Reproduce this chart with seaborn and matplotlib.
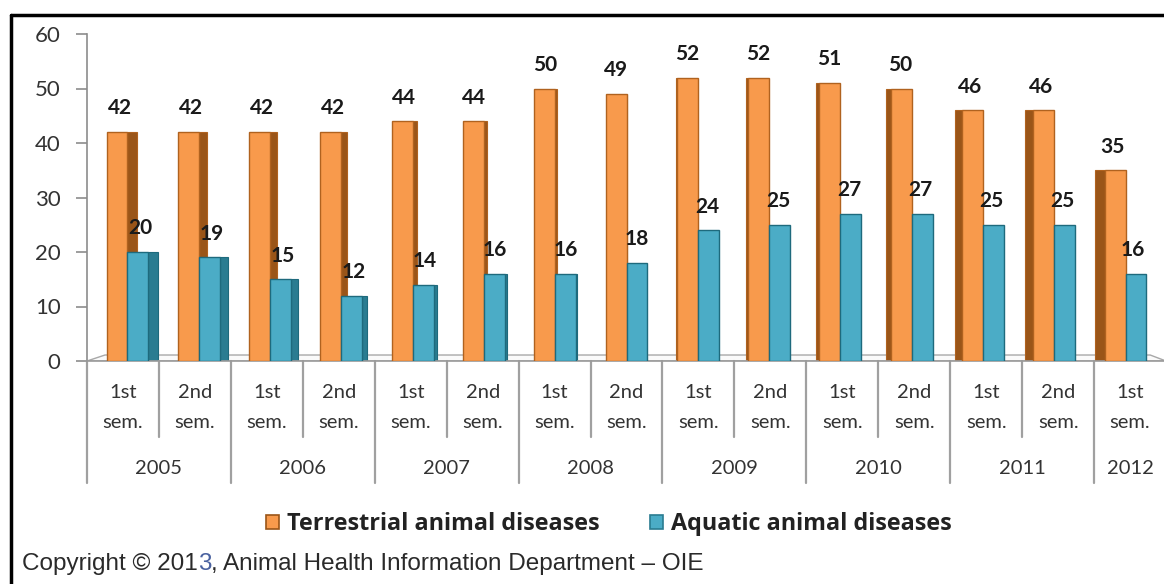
import matplotlib
matplotlib.use("Agg")
import matplotlib.pyplot as plt
from matplotlib.patches import Rectangle, Patch, Polygon
from matplotlib.lines import Line2D
import matplotlib.transforms as mtransforms
import pandas as pd
import seaborn as sns

# ---- data -------------------------------------------------------------
years = ["2005", "2005", "2006", "2006", "2007", "2007", "2008", "2008",
         "2009", "2009", "2010", "2010", "2011", "2011", "2012"]
semesters = ["1st", "2nd", "1st", "2nd", "1st", "2nd", "1st", "2nd",
             "1st", "2nd", "1st", "2nd", "1st", "2nd", "1st"]
terrestrial = [42, 42, 42, 42, 44, 44, 50, 49, 52, 52, 51, 50, 46, 46, 35]
aquatic = [20, 19, 15, 12, 14, 16, 16, 18, 24, 25, 27, 27, 25, 25, 16]
series_names = ["Terrestrial animal diseases", "Aquatic animal diseases"]
y_ticks = [0, 10, 20, 30, 40, 50, 60]
copyright_parts = ["Copyright \u00a9 201", "3", ", Animal Health Information Department \u2013 OIE"]

# ---- styling ----------------------------------------------------------
front_colors = ["#F89A4C", "#4BACC6"]
side_colors = ["#9A5518", "#2A7C91"]
edge_colors = ["#B0621F", "#1E6A7D"]
text_color = "#333333"

sns.set_theme(style="white")
plt.rcParams["font.family"] = ["Lato", "DejaVu Sans"]

periods = [f"{y} {s}" for y, s in zip(years, semesters)]
df = pd.DataFrame({
    "period": periods * 2,
    "series": [series_names[0]] * len(periods) + [series_names[1]] * len(periods),
    "value": terrestrial + aquatic,
})

W, H = 1164, 584
fig = plt.figure(figsize=(W / 100, H / 100), dpi=100)
fig.patch.set_facecolor("white")

# plot frame in pixels: left 87, right 1166, top 34, bottom 361
ax = fig.add_axes([87 / W, 1 - 361 / H, (1166 - 87) / W, (361 - 34) / H])

sns.barplot(data=df, x="period", y="value", hue="series",
            palette=dict(zip(series_names, front_colors)),
            width=0.58, gap=0, saturation=1, legend=False, ax=ax,
            zorder=3, errorbar=None)

ax.set_xlim(-0.5, len(periods) - 0.5)
ax.set_ylim(0, 60)
ax.set_yticks(y_ticks)
ax.set_yticklabels([str(t) for t in y_ticks], fontsize=16, color="#333333")
ax.set_xticks([])
ax.set_xlabel("")
ax.set_ylabel("")
for side in ["top", "right"]:
    ax.spines[side].set_visible(False)
ax.spines["left"].set_color("#8C8C8C")
ax.spines["bottom"].set_color("#9A9A9A")
ax.spines["left"].set_linewidth(1.2)
ax.spines["bottom"].set_linewidth(1.2)
ax.tick_params(axis="y", direction="out", length=8, width=1.2, color="#8C8C8C",
               pad=11, left=True)

# floor of the pseudo-3D plot
floor = Polygon([(-0.5, 0), (-0.25, 1.1), (len(periods) - 0.72, 1.1), (len(periods) - 0.5, 0)],
                closed=True, facecolor="#FAFAFA", edgecolor="#A8A8A8", lw=1.0, zorder=1)
ax.add_patch(floor)

# perspective: fronts drift toward the middle, side faces grow toward the edges
mid = (len(periods) - 1) / 2
k_side = 0.019
k_shift = 0.009
for ci, (container, vals) in enumerate(zip(ax.containers, [terrestrial, aquatic])):
    for bar, v in zip(container, vals):
        bar.set_edgecolor(edge_colors[ci])
        bar.set_linewidth(1.0)
        x0, w = bar.get_x(), bar.get_width()
        group_c = round(x0 + w / 2)
        x0 = x0 + k_shift * (mid - group_c)
        bar.set_x(x0)
        h = bar.get_height()
        xc = x0 + w / 2
        s = k_side * (mid - xc)
        sx = x0 + w if s >= 0 else x0 + s
        ax.add_patch(Rectangle((sx, 0), abs(s), h, facecolor=side_colors[ci],
                               edgecolor=edge_colors[ci], lw=0.8, zorder=2))
        ax.annotate(f"{v}", (xc + s * 0.3, h), xytext=(0, 17), textcoords="offset points",
                    ha="center", va="center", fontsize=15, fontweight="bold",
                    color="#1A1A1A", zorder=5)

# category axis: semesters, years and separator lines
trans = mtransforms.blended_transform_factory(ax.transData, ax.transAxes)
ax_h = 361 - 34


def yfrac(py):
    return -(py - 361) / ax_h


for i, sem in enumerate(semesters):
    ax.text(i, yfrac(392), sem, transform=trans, ha="center", va="center",
            fontsize=14.5, color=text_color)
    ax.text(i, yfrac(422), "sem.", transform=trans, ha="center", va="center",
            fontsize=14.5, color=text_color)

groups = []
for i, y in enumerate(years):
    if groups and groups[-1][0] == y:
        groups[-1][2] = i
    else:
        groups.append([y, i, i])
for y, a, b in groups:
    ax.text((a + b) / 2, yfrac(468), y, transform=trans, ha="center", va="center",
            fontsize=14.5, color=text_color)

line_kw = dict(transform=trans, color="#A0A0A0", lw=1.6, clip_on=False)
for i in range(len(periods) + 1):
    xb = i - 0.5
    is_year = i == 0 or i == len(periods) or years[i] != years[i - 1]
    bottom = yfrac(483) if is_year else yfrac(437)
    ax.add_line(Line2D([xb, xb], [0, bottom], **line_kw))

# legend: one entry per series, placed side by side
legend_x = [266 / W, 650 / W]
for i in range(2):
    handle = Patch(facecolor=front_colors[i], edgecolor=side_colors[i], lw=1.2)
    lg = fig.legend([handle], [series_names[i]], loc="center left",
                    bbox_to_anchor=(legend_x[i], 1 - 524 / H), frameon=False,
                    prop={"family": "Open Sans", "weight": "bold", "size": 16.8},
                    handlelength=0.55, handleheight=0.55, handletextpad=0.35,
                    borderpad=0, borderaxespad=0)
    for txt in lg.get_texts():
        txt.set_color("#222222")

# copyright line, drawn piece by piece so the year digit can take its own colour
fig.canvas.draw()
renderer = fig.canvas.get_renderer()
x_px = 22
for j, part in enumerate(copyright_parts):
    color = "#4A62A0" if j == 1 else "#2A2A2A"
    t = fig.text(x_px / W, 1 - 570 / H, part, ha="left", va="baseline",
                 fontsize=17.5, color=color, family="Liberation Sans")
    x_px = t.get_window_extent(renderer).x1

# outer frame (left and top edges)
fig.add_artist(Line2D([11 / W, 11 / W], [0, 1 - 15 / H], color="black", lw=2.5))
fig.add_artist(Line2D([11 / W, 1], [1 - 15 / H, 1 - 15 / H], color="black", lw=2.5))

fig.savefig("out.png", dpi=100, facecolor="white")
